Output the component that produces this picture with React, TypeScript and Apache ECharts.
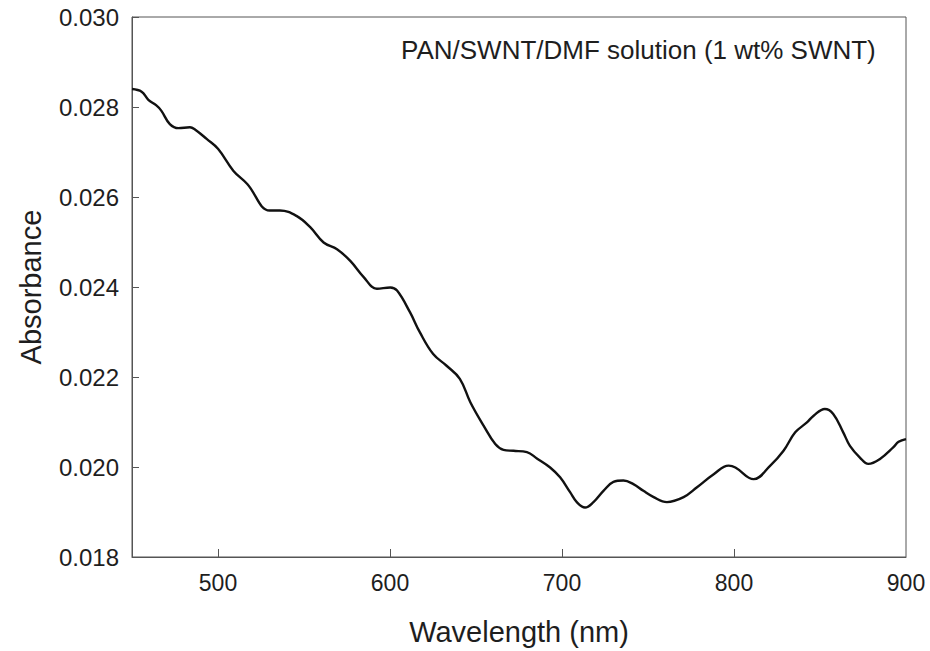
import React, { useEffect, useRef } from "react";
import * as echarts from "echarts";

const wavelength = [
  450, 455.6, 459.5, 464, 467, 472, 477, 483.7, 486.6, 493.4, 500, 509, 517, 530, 536, 545.6,
  553.6, 561.4, 569.2, 576.9, 584.7, 592.4, 600.2, 604.1, 611.6, 617.4, 625.1, 632.9, 640.6,
  646.7, 654.4, 661.2, 666, 671.8, 679.6, 685.4, 693.1, 698.9, 704.7, 708.6, 713.4, 718.3,
  724.1, 729.9, 735.7, 741.5, 747.3, 753.3, 761, 770.7, 778.5, 788.2, 796.9, 800.8, 811.4,
  821.1, 828.8, 835.6, 842.4, 846.3, 852.8, 857.7, 863.5, 867.4, 873.2, 878.1, 884.9, 892.7,
  895.7, 900,
];
const absorbance = [
  0.0284, 0.02834, 0.02816, 0.02804, 0.02792, 0.02762, 0.02753, 0.02755, 0.0275, 0.02729,
  0.02707, 0.02658, 0.02629, 0.0257, 0.0257, 0.02558, 0.02533, 0.02499, 0.02484, 0.02458,
  0.02422, 0.02396, 0.02399, 0.02392, 0.02344, 0.02299, 0.02251, 0.02225, 0.02196, 0.02144,
  0.02092, 0.02051, 0.02038, 0.02036, 0.02033, 0.02019, 0.01999, 0.01977, 0.01944, 0.01922,
  0.0191, 0.01922, 0.01947, 0.01967, 0.0197, 0.01962, 0.01947, 0.01933, 0.01922, 0.01933,
  0.01955, 0.01984, 0.02003, 0.01999, 0.01973, 0.02003, 0.02036, 0.02077, 0.02099, 0.02114,
  0.02129, 0.02118, 0.02077, 0.02047, 0.02021, 0.02007, 0.02018, 0.02044, 0.02056, 0.02062,
];
const xTickValues = [500, 600, 700, 800];
const xLabelValues = [500, 600, 700, 800, 900];
const annotation = "PAN/SWNT/DMF solution (1 wt% SWNT)";
const xName = "Wavelength (nm)";
const yName = "Absorbance";

export default function App() {
  const ref = useRef<HTMLDivElement>(null);
  useEffect(() => {
    if (!ref.current) return;
    const chart = echarts.init(ref.current, null, { renderer: "svg" });
    const font = "Liberation Sans, Arial, sans-serif";
    const axisColor = "#555";
    const textColor = "#1e1e1e";
    chart.setOption({
      animation: false,
      backgroundColor: "#fff",
      title: {
        text: annotation,
        left: 396,
        top: 32,
        textStyle: { fontFamily: font, fontSize: 26, fontWeight: "normal", color: textColor },
      },
      grid: {
        left: 132,
        right: 24,
        top: 17,
        bottom: 92,
        show: true,
        borderColor: axisColor,
        borderWidth: 1,
      },
      xAxis: {
        type: "value",
        min: 450,
        max: 900,
        name: xName,
        nameLocation: "middle",
        nameGap: 60,
        nameTextStyle: { fontFamily: font, fontSize: 29, color: textColor },
        axisLine: { lineStyle: { color: axisColor, width: 1 } },
        axisTick: {
          inside: true,
          length: 8,
          customValues: xTickValues,
          lineStyle: { color: axisColor },
        },
        axisLabel: {
          customValues: xLabelValues,
          margin: 14,
          fontFamily: font,
          fontSize: 23,
          color: textColor,
        },
        splitLine: { show: false },
      },
      yAxis: {
        type: "value",
        min: 0.018,
        max: 0.03,
        interval: 0.002,
        name: yName,
        nameLocation: "middle",
        nameGap: 87,
        nameRotate: 90,
        nameTextStyle: { fontFamily: font, fontSize: 29, color: textColor },
        axisLine: { show: true, lineStyle: { color: axisColor, width: 1 } },
        axisTick: { show: true, inside: true, length: 7, lineStyle: { color: axisColor } },
        axisLabel: {
          margin: 13,
          fontFamily: font,
          fontSize: 24,
          color: textColor,
          formatter: (v: number) => v.toFixed(3),
        },
        splitLine: { show: false },
      },
      series: [
        {
          type: "line",
          data: wavelength.map((w, i) => [w, absorbance[i]]),
          smooth: 0.4,
          showSymbol: false,
          lineStyle: { color: "#111", width: 2.4 },
        },
      ],
    });
    return () => chart.dispose();
  }, []);
  return (
    <div
      ref={ref}
      style={{ position: "fixed", left: 0, top: 0, width: 930, height: 651 }}
    />
  );
}
